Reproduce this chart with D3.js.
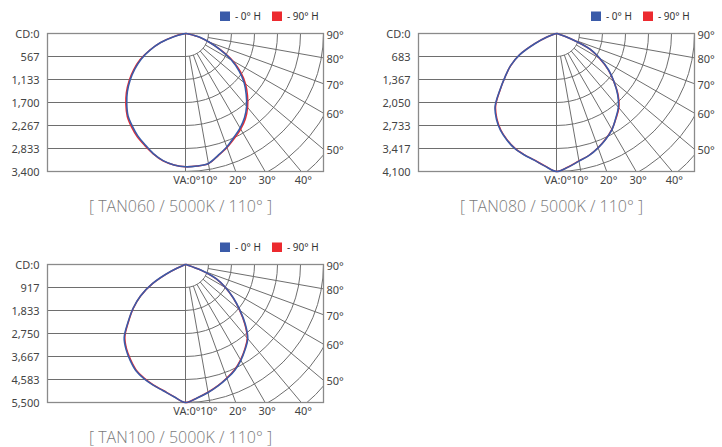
<!DOCTYPE html>
<html><head><meta charset="utf-8">
<script src="https://cdn.jsdelivr.net/npm/d3@7"></script>
<style>body{margin:0;background:#fff;} svg{display:block;}</style>
</head><body>
<svg id="c" width="722" height="447"></svg>
<script>
// ---------- data ----------
const angles = [0,5,10,15,20,25,30,35,40,45,50,55,60,65,70,75,80,85,90];

// TAN060 (cd) : right side (+angle) and left side (-angle)
const tan060_0H_right  = [3284,3277,3252,3108,2975,2821,2689,2534,2343,2115,1887,1614,1306,939,615,365,80,10,0];
const tan060_0H_left   = [3284,3250,3180,3062,2915,2782,2627,2470,2252,2026,1780,1522,1263,957,651,300,50,0,0];
const tan060_90H_right = [3284,3277,3255,3115,2990,2850,2720,2570,2380,2160,1930,1660,1340,955,620,365,80,10,0];
const tan060_90H_left  = [3284,3250,3185,3070,2935,2810,2660,2500,2285,2060,1815,1560,1295,975,655,300,50,0,0];

// TAN080
const tan080_0H_right  = [4100,3985,3850,3750,3615,3465,3297,3070,2860,2570,2230,1890,1490,1100,430,80,10,0,0];
const tan080_0H_left   = [4100,3955,3820,3730,3635,3490,3325,3110,2840,2380,1990,1665,1269,700,300,60,0,0,0];
const tan080_90H_right = [4100,3980,3845,3745,3610,3460,3290,3080,2880,2590,2225,1880,1480,1095,430,80,10,0,0];
const tan080_90H_left  = [4100,3950,3815,3725,3625,3480,3310,3090,2815,2370,1985,1660,1265,700,300,60,0,0,0];

// TAN100
const tan100_0H_right  = [5500,5340,5180,5010,4830,4650,4410,4140,3860,3370,2830,2330,1850,1360,650,100,20,0,0];
const tan100_0H_left   = [5500,5290,5110,4980,4840,4670,4410,4130,3800,3230,2730,2190,1510,640,80,10,0,0,0];
const tan100_90H_right = [5500,5335,5170,5000,4815,4630,4390,4120,3830,3340,2810,2320,1845,1355,650,100,20,0,0];
const tan100_90H_left  = [5500,5285,5100,4965,4820,4645,4380,4100,3760,3210,2720,2185,1505,640,80,10,0,0,0];

const tan060_ticks = ["CD:0","567","1,133","1,700","2,267","2,833","3,400"];
const tan080_ticks = ["CD:0","683","1,367","2,050","2,733","3,417","4,100"];
const tan100_ticks = ["CD:0","917","1,833","2,750","3,667","4,583","5,500"];

const bottomAngles = [0,10,20,30,40];
const bottomLabels = ["VA:0°","10°","20°","30°","40°"];
const sideAngles   = [50,60,70,80,90];
const sideLabels   = ["50°","60°","70°","80°","90°"];
const gridAngles   = [10,20,30,40,50,60,70,80];

const legendLabels = ["- 0° H","- 90° H"];
const legendColors = ["#3a5ba9","#ec2a2f"];

const charts = [
  {title:"[ TAN060 / 5000K / 110° ]", max:3400, ticks:tan060_ticks, cx:185.5, cy:33.5,
   b:[tan060_0H_left,tan060_0H_right], r:[tan060_90H_left,tan060_90H_right]},
  {title:"[ TAN080 / 5000K / 110° ]", max:4100, ticks:tan080_ticks, cx:556.5, cy:33.5,
   b:[tan080_0H_left,tan080_0H_right], r:[tan080_90H_left,tan080_90H_right]},
  {title:"[ TAN100 / 5000K / 110° ]", max:5500, ticks:tan100_ticks, cx:185.5, cy:264.5,
   b:[tan100_0H_left,tan100_0H_right], r:[tan100_90H_left,tan100_90H_right]}
];

// ---------- drawing ----------
const svg = d3.select("#c");
const H = 138, LW = 138;
const gridColor = "#6e6e6e", boxColor = "#8a8a8a";
const font = "'Noto Sans', 'Open Sans', sans-serif";
const deg = Math.PI/180;

charts.forEach((c, ci) => {
  const g = svg.append("g").attr("transform", `translate(${c.cx},${c.cy})`);
  const rScale = d3.scaleLinear().domain([0, c.max]).range([0, H]);
  const yScale = d3.scaleLinear().domain([0, c.ticks.length-1]).range([0, H]);
  const aScale = d3.scaleLinear().domain([0, 180]).range([Math.PI, 0]);

  const clipId = "clip"+ci;
  g.append("clipPath").attr("id", clipId).append("rect")
    .attr("x",0).attr("y",0).attr("width",H).attr("height",H);

  g.selectAll("line.h").data(d3.range(c.ticks.length)).join("line")
    .attr("x1",-LW).attr("x2",0).attr("y1",d=>yScale(d)).attr("y2",d=>yScale(d))
    .attr("stroke",gridColor).attr("stroke-width",1);

  const rg = g.append("g").attr("clip-path",`url(#${clipId})`);
  const step = c.max/(c.ticks.length-1);
  const radii = d3.range(1, 9).map(k => rScale(k*step));
  rg.selectAll("path.arc").data(radii).join("path")
    .attr("d", r => { const p = d3.path(); p.moveTo(r,0); p.arc(0,0,r,0,Math.PI/2); return p.toString(); })
    .attr("fill","none").attr("stroke",gridColor).attr("stroke-width",1);
  const r0 = rScale(step);
  rg.selectAll("line.rad").data(gridAngles).join("line")
    .attr("x1",a=>r0*Math.sin(a*deg)).attr("y1",a=>r0*Math.cos(a*deg))
    .attr("x2",a=>400*Math.sin(a*deg)).attr("y2",a=>400*Math.cos(a*deg))
    .attr("stroke",gridColor).attr("stroke-width",1);

  g.append("line").attr("x1",0).attr("x2",0).attr("y1",0).attr("y2",H)
    .attr("stroke",gridColor).attr("stroke-width",1);
  g.append("rect").attr("x",-LW).attr("y",0).attr("width",LW+H).attr("height",H)
    .attr("fill","none").attr("stroke",boxColor).attr("stroke-width",1.3);

  g.selectAll("text.yl").data(c.ticks).join("text")
    .attr("x",-LW-8).attr("y",(d,i)=>yScale(i)+4)
    .attr("text-anchor","end").attr("font-family",font).attr("font-size",11)
    .attr("fill","#444").text(d=>d);
  g.selectAll("text.bl").data(bottomAngles).join("text")
    .attr("x",(a,i)=> i===0 ? 15 : H*Math.tan(a*deg)+ (a===10? -1 : 2))
    .attr("y",H+12.5)
    .attr("text-anchor",(a,i)=> i===0 ? "end" : "middle")
    .attr("font-family",font).attr("font-size",11).attr("fill","#444")
    .text((a,i)=>bottomLabels[i]);
  g.selectAll("text.sl").data(sideAngles).join("text")
    .attr("x",H+3).attr("y",a=>H/Math.tan(a*deg)+5)
    .attr("font-family",font).attr("font-size",11).attr("fill","#444")
    .text((a,i)=>sideLabels[i]);

  const line = d3.lineRadial()
    .angle(d=>aScale(d.a)).radius(d=>rScale(d.v))
    .curve(d3.curveCatmullRom.alpha(0.5));
  const toPts = (left,right) => {
    const pts = [];
    for (let i=angles.length-1;i>0;i--) pts.push({a:-angles[i], v:left[i]});
    for (let i=0;i<angles.length;i++) pts.push({a:angles[i], v:right[i]});
    return pts;
  };
  g.append("path").attr("d", line(toPts(c.r[0],c.r[1])))
    .attr("fill","none").attr("stroke",legendColors[1]).attr("stroke-width",1.5);
  g.append("path").attr("d", line(toPts(c.b[0],c.b[1])))
    .attr("fill","none").attr("stroke",legendColors[0]).attr("stroke-width",1.6);

  const lg = g.append("g").attr("transform","translate(0,-22)");
  const lx = [34.5, 86.5];
  legendLabels.forEach((t,i)=>{
    lg.append("rect").attr("x",lx[i]).attr("y",0).attr("width",10).attr("height",9.5).attr("fill",legendColors[i]);
    lg.append("text").attr("x",lx[i]+15).attr("y",8.5).attr("font-family",font)
      .attr("font-size",10).attr("fill","#333").text(t);
  });

  g.append("text").attr("x",-5).attr("y",H+40).attr("text-anchor","middle")
    .attr("font-family","'Open Sans', 'Noto Sans', sans-serif").attr("font-weight",300)
    .attr("font-size",16).attr("fill","#7a7a7a").text(c.title);
});
</script>
</body></html>
